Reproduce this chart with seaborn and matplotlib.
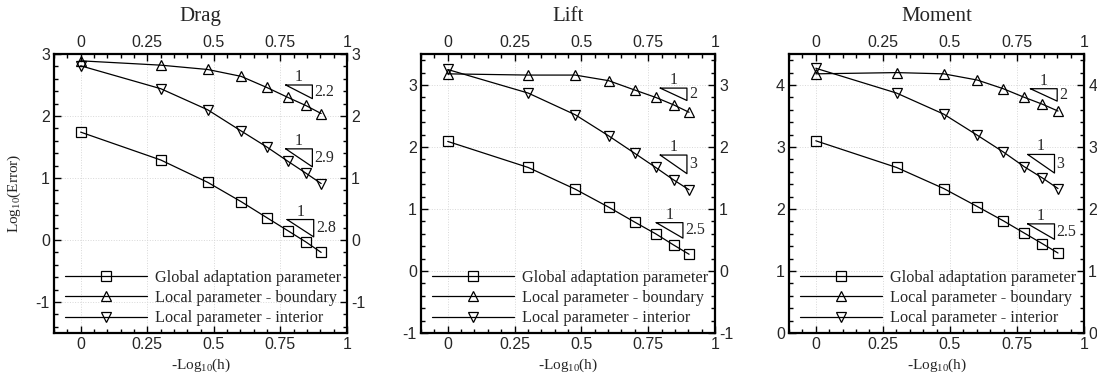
import numpy as np
import pandas as pd
import seaborn as sns
import matplotlib
matplotlib.use("Agg")
import matplotlib.pyplot as plt
from matplotlib.ticker import MultipleLocator

# -log10(h) for the mesh sequence
neg_log_h = [0.0, 0.301, 0.477, 0.602, 0.699, 0.778, 0.845, 0.903]

# log10(error) per quantity of interest
drag_global = [1.74, 1.29, 0.93, 0.62, 0.36, 0.15, -0.03, -0.20]
drag_boundary = [2.89, 2.82, 2.75, 2.64, 2.46, 2.30, 2.17, 2.04]
drag_interior = [2.81, 2.44, 2.10, 1.76, 1.50, 1.27, 1.08, 0.91]

lift_global = [2.09, 1.67, 1.32, 1.03, 0.79, 0.60, 0.42, 0.27]
lift_boundary = [3.18, 3.16, 3.16, 3.07, 2.92, 2.80, 2.68, 2.56]
lift_interior = [3.25, 2.87, 2.52, 2.18, 1.90, 1.67, 1.47, 1.31]

moment_global = [3.10, 2.67, 2.33, 2.04, 1.81, 1.61, 1.44, 1.29]
moment_boundary = [4.18, 4.20, 4.18, 4.08, 3.94, 3.80, 3.69, 3.58]
moment_interior = [4.27, 3.87, 3.53, 3.19, 2.92, 2.68, 2.50, 2.33]

series_names = ["Global adaptation parameter",
                "Local parameter - boundary",
                "Local parameter - interior"]
panel_titles = ["Drag", "Lift", "Moment"]

# convergence-rate triangles: (x of corner, y of corner, slope)
drag_slopes = [(0.77, 2.50, 2.2), (0.77, 1.47, 2.9), (0.775, 0.33, 2.8)]
lift_slopes = [(0.795, 2.95, 2.0), (0.795, 1.87, 3.0), (0.78, 0.78, 2.5)]
moment_slopes = [(0.80, 3.94, 2.0), (0.79, 2.88, 3.0), (0.79, 1.76, 2.5)]
drag_slope_labels = ["2.2", "2.9", "2.8"]
lift_slope_labels = ["2", "3", "2.5"]
moment_slope_labels = ["2", "3", "2.5"]

y_limits = [(-1.5, 3.0), (-1.0, 3.5), (0.0, 4.5)]

sns.set_style("ticks")
plt.rcParams["font.family"] = ["Liberation Sans", "DejaVu Sans"]
plt.rcParams["mathtext.fontset"] = "custom"
plt.rcParams["mathtext.rm"] = "Liberation Serif"
plt.rcParams["mathtext.it"] = "Liberation Serif:italic"

SERIF = ["Liberation Serif", "DejaVu Serif"]

fig = plt.figure(figsize=(10.97, 3.79), dpi=100)
W, H = 1097.0, 379.0
ax_px = [(54, 347), (421, 715), (789, 1084)]
top_px, bottom_px = 54, 333
axes = [fig.add_axes([l / W, (H - bottom_px) / H, (r - l) / W, (bottom_px - top_px) / H])
        for l, r in ax_px]

datasets = [
    (drag_global, drag_boundary, drag_interior, drag_slopes, drag_slope_labels),
    (lift_global, lift_boundary, lift_interior, lift_slopes, lift_slope_labels),
    (moment_global, moment_boundary, moment_interior, moment_slopes, moment_slope_labels),
]
markers = ["s", "^", "v"]
msizes = [6.5, 7.5, 7.5]

for ax, title, ylim, (g, b, i, slopes, slabels) in zip(axes, panel_titles, y_limits, datasets):
    for vals, name, mk, ms in zip((g, b, i), series_names, markers, msizes):
        df = pd.DataFrame({"x": neg_log_h, "y": vals})
        sns.lineplot(data=df, x="x", y="y", ax=ax, color="black", linewidth=0.9,
                     marker=mk, markersize=ms, markerfacecolor="none",
                     markeredgecolor="black", markeredgewidth=0.9, label=name,
                     estimator=None, sort=False)

    # slope triangles
    for (x0, y0, s), lab in zip(slopes, slabels):
        dx = 0.1
        dy = s * dx
        ax.plot([x0, x0 + dx, x0 + dx, x0], [y0, y0, y0 - dy, y0],
                color="black", linewidth=0.9)
        ax.text(x0 + dx / 2, y0 + 0.0, "1", ha="center", va="bottom",
                fontsize=11.5, family=SERIF)
        ax.text(x0 + dx + 0.008, y0 - dy / 2, lab, ha="left", va="center",
                fontsize=11.5, family=SERIF)

    ax.set_xlim(-0.1, 1.0)
    ax.set_ylim(*ylim)
    ax.xaxis.set_major_locator(MultipleLocator(0.25))
    ax.xaxis.set_minor_locator(MultipleLocator(0.05))
    ax.yaxis.set_major_locator(MultipleLocator(1))
    ax.yaxis.set_minor_locator(MultipleLocator(0.2))
    ax.xaxis.set_major_formatter(plt.FuncFormatter(lambda v, p: f"{v:g}"))
    ax.yaxis.set_major_formatter(plt.FuncFormatter(lambda v, p: f"{v:g}"))
    ax.tick_params(which="both", direction="in", top=True, right=True,
                   labeltop=True, labelright=True, labelsize=11.5, pad=3,
                   width=1.0, color="black")
    ax.tick_params(which="major", length=5)
    ax.tick_params(which="minor", length=3)
    ax.grid(True, which="major", linestyle=":", linewidth=0.7, color="#d8d8d8")
    for sp in ax.spines.values():
        sp.set_linewidth(1.6)
        sp.set_color("black")

    ax.set_xlabel(r"-Log$_{10}$(h)", fontsize=11, family=SERIF, labelpad=3)
    ax.set_ylabel("")
    ax.set_title(title, fontsize=15, family=SERIF, pad=24)

    leg = ax.legend(loc="lower left", bbox_to_anchor=(0.0, -0.017), frameon=False,
                    handlelength=5.0, handletextpad=0.5, labelspacing=0.27,
                    borderaxespad=0.3, numpoints=1, prop={"family": SERIF, "size": 11.7})

axes[0].set_ylabel(r"Log$_{10}$(Error)", fontsize=11, family=SERIF, labelpad=9)

fig.savefig("out.png", dpi=100)
